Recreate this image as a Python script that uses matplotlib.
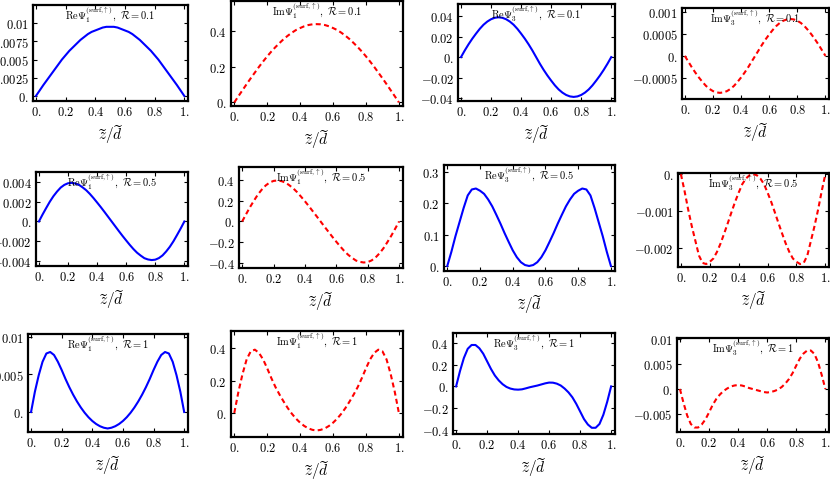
import matplotlib
matplotlib.use("Agg")
import matplotlib.pyplot as plt

plt.rcParams["mathtext.fontset"] = "cm"
plt.rcParams["font.family"] = "serif"
plt.rcParams["font.serif"] = ["DejaVu Serif"]

# ---------------------------
# Data
# ---------------------------
z = [0.0, 0.025, 0.05, 0.075, 0.1, 0.125, 0.15, 0.175, 0.2, 0.225, 0.25,
     0.275, 0.3, 0.325, 0.35, 0.375, 0.4, 0.425, 0.45, 0.475, 0.5,
     0.525, 0.55, 0.575, 0.6, 0.625, 0.65, 0.675, 0.7, 0.725, 0.75,
     0.775, 0.8, 0.825, 0.85, 0.875, 0.9, 0.925, 0.95, 0.975, 1.0]

# R = 0.1
re1_r01 = [0, 0.00075, 0.0015, 0.0022, 0.0029, 0.0036, 0.0043, 0.005, 0.0056, 0.0062, 0.0067,
           0.0072, 0.0077, 0.0081, 0.0085, 0.0088, 0.009, 0.0092, 0.0094, 0.0095, 0.0095,
           0.0095, 0.0094, 0.0092, 0.009, 0.0088, 0.0085, 0.0081, 0.0077, 0.0072, 0.0067,
           0.0062, 0.0056, 0.005, 0.0043, 0.0036, 0.0029, 0.0022, 0.0015, 0.00075, 0]
im1_r01 = [0, 0.035, 0.069, 0.103, 0.136, 0.168, 0.2, 0.23, 0.259, 0.286, 0.311,
           0.334, 0.356, 0.375, 0.392, 0.407, 0.418, 0.428, 0.435, 0.439, 0.44,
           0.439, 0.435, 0.428, 0.418, 0.407, 0.392, 0.375, 0.356, 0.334, 0.311,
           0.286, 0.259, 0.23, 0.2, 0.168, 0.136, 0.103, 0.069, 0.035, 0]
re3_r01 = [0, 0.0065, 0.0125, 0.018, 0.023, 0.0277, 0.0317, 0.0348, 0.0371, 0.0385, 0.039,
           0.0385, 0.0371, 0.0348, 0.0317, 0.0277, 0.023, 0.018, 0.0125, 0.0065, 0,
           -0.0065, -0.0125, -0.018, -0.023, -0.0277, -0.0317, -0.0348, -0.0371, -0.0385, -0.039,
           -0.0385, -0.0371, -0.0348, -0.0317, -0.0277, -0.023, -0.018, -0.0125, -0.0065, 0]
im3_r01 = [0, -0.00013, -0.00026, -0.00038, -0.00049, -0.00059, -0.00068, -0.00075, -0.0008, -0.00083, -0.00084,
           -0.00083, -0.0008, -0.00075, -0.00068, -0.00059, -0.00049, -0.00038, -0.00026, -0.00013, 0,
           0.00013, 0.00026, 0.00038, 0.00049, 0.00059, 0.00068, 0.00075, 0.0008, 0.00083, 0.00084,
           0.00083, 0.0008, 0.00075, 0.00068, 0.00059, 0.00049, 0.00038, 0.00026, 0.00013, 0]

# R = 0.5
re1_r05 = [0, 0.0007, 0.00136, 0.002, 0.00256, 0.00303, 0.00343, 0.0037, 0.00386, 0.0039, 0.00384,
           0.00371, 0.00345, 0.00316, 0.00279, 0.00237, 0.00192, 0.00146, 0.00098, 0.00049, 0,
           -0.00049, -0.00098, -0.00146, -0.00192, -0.00237, -0.00279, -0.00316, -0.00345, -0.00371, -0.00384,
           -0.0039, -0.00386, -0.0037, -0.00343, -0.00303, -0.00256, -0.002, -0.00136, -0.0007, 0]
im1_r05 = [0, 0.07, 0.138, 0.2, 0.259, 0.307, 0.347, 0.375, 0.391, 0.395, 0.389,
           0.376, 0.35, 0.32, 0.283, 0.24, 0.195, 0.148, 0.099, 0.05, 0,
           -0.05, -0.099, -0.148, -0.195, -0.24, -0.283, -0.32, -0.35, -0.376, -0.389,
           -0.395, -0.391, -0.375, -0.347, -0.307, -0.259, -0.2, -0.138, -0.07, 0]
re3_r05 = [0, 0.045, 0.095, 0.14, 0.185, 0.225, 0.244, 0.247, 0.24, 0.23, 0.212,
           0.19, 0.163, 0.135, 0.105, 0.077, 0.05, 0.028, 0.012, 0.003, 0,
           0.003, 0.012, 0.028, 0.05, 0.077, 0.105, 0.135, 0.163, 0.19, 0.212,
           0.23, 0.24, 0.247, 0.244, 0.225, 0.185, 0.14, 0.095, 0.045, 0]
im3_r05 = [0, -0.00045, -0.00095, -0.0014, -0.0018, -0.0022, -0.0024, -0.00243, -0.00237, -0.00228, -0.0021,
           -0.00187, -0.0016, -0.00132, -0.00103, -0.00075, -0.0005, -0.00027, -0.00012, -0.00003, 0,
           -0.00003, -0.00012, -0.00027, -0.0005, -0.00075, -0.00103, -0.00132, -0.0016, -0.00187, -0.0021,
           -0.00228, -0.00237, -0.00243, -0.0024, -0.0022, -0.0018, -0.0014, -0.00095, -0.00045, 0]

# R = 1
re1_r1 = [0, 0.0027, 0.0049, 0.0067, 0.0078, 0.0080, 0.0076, 0.0067, 0.0056, 0.0044, 0.0033,
          0.0023, 0.0014, 0.0006, -0.0001, -0.0007, -0.0012, -0.0016, -0.0019, -0.0021, -0.0022,
          -0.0021, -0.0019, -0.0016, -0.0012, -0.0007, -0.0001, 0.0006, 0.0014, 0.0023, 0.0033,
          0.0044, 0.0056, 0.0067, 0.0076, 0.0080, 0.0078, 0.0067, 0.0049, 0.0027, 0]
im1_r1 = [0, 0.13, 0.24, 0.33, 0.38, 0.39, 0.37, 0.33, 0.275, 0.215, 0.16,
          0.113, 0.07, 0.03, -0.005, -0.035, -0.06, -0.08, -0.095, -0.104, -0.108,
          -0.104, -0.095, -0.08, -0.06, -0.035, -0.005, 0.03, 0.07, 0.113, 0.16,
          0.215, 0.275, 0.33, 0.37, 0.39, 0.38, 0.33, 0.24, 0.13, 0]
re3_r1 = [0, 0.14, 0.26, 0.345, 0.38, 0.38, 0.35, 0.30, 0.23, 0.16, 0.10,
          0.055, 0.02, -0.005, -0.02, -0.028, -0.03, -0.027, -0.018, -0.008, 0,
          0.008, 0.018, 0.028, 0.035, 0.034, 0.025, 0.008, -0.02, -0.055, -0.10,
          -0.16, -0.23, -0.30, -0.35, -0.38, -0.38, -0.345, -0.26, -0.14, 0]
im3_r1 = [0, -0.0028, -0.0053, -0.007, -0.0077, -0.0077, -0.0071, -0.0061, -0.0047, -0.0032, -0.002,
          -0.0011, -0.0004, 0.0001, 0.0005, 0.0007, 0.0008, 0.0007, 0.0005, 0.0002, 0,
          -0.0002, -0.0004, -0.0006, -0.0007, -0.0006, -0.0004, -0.0001, 0.0004, 0.0011, 0.002,
          0.0032, 0.0047, 0.0061, 0.0071, 0.0077, 0.0077, 0.007, 0.0053, 0.0028, 0]

x_ticks = [0, 0.2, 0.4, 0.6, 0.8, 1.0]
x_tick_labels = ["0.", "0.2", "0.4", "0.6", "0.8", "1."]

# ---------------------------
# Panels: (part, index, R, values, yticks, yticklabels)
# ---------------------------
panels = [
    ("Re", 1, "0.1", re1_r01, [0, 0.0025, 0.005, 0.0075, 0.01], ["0.", "0.0025", "0.005", "0.0075", "0.01"]),
    ("Im", 1, "0.1", im1_r01, [0, 0.2, 0.4], ["0.", "0.2", "0.4"]),
    ("Re", 3, "0.1", re3_r01, [-0.04, -0.02, 0, 0.02, 0.04], ["-0.04", "-0.02", "0.", "0.02", "0.04"]),
    ("Im", 3, "0.1", im3_r01, [-0.0005, 0, 0.0005, 0.001], ["-0.0005", "0.", "0.0005", "0.001"]),
    ("Re", 1, "0.5", re1_r05, [-0.004, -0.002, 0, 0.002, 0.004], ["-0.004", "-0.002", "0.", "0.002", "0.004"]),
    ("Im", 1, "0.5", im1_r05, [-0.4, -0.2, 0, 0.2, 0.4], ["-0.4", "-0.2", "0.", "0.2", "0.4"]),
    ("Re", 3, "0.5", re3_r05, [0, 0.1, 0.2, 0.3], ["0.", "0.1", "0.2", "0.3"]),
    ("Im", 3, "0.5", im3_r05, [-0.002, -0.001, 0], ["-0.002", "-0.001", "0."]),
    ("Re", 1, "1", re1_r1, [0, 0.005, 0.01], ["0.", "0.005", "0.01"]),
    ("Im", 1, "1", im1_r1, [0, 0.2, 0.4], ["0.", "0.2", "0.4"]),
    ("Re", 3, "1", re3_r1, [-0.4, -0.2, 0, 0.2, 0.4], ["-0.4", "-0.2", "0.", "0.2", "0.4"]),
    ("Im", 3, "1", im3_r1, [-0.005, 0, 0.005, 0.01], ["-0.005", "0.", "0.005", "0.01"]),
]

# frame boxes in pixels (left, top, right, bottom) and y ranges
boxes = [
    (33, 6, 188, 102), (231, 2, 403, 107), (458, 5, 615, 102), (682, 9, 829, 100),
    (36, 173, 188, 267), (239, 168, 403, 269), (444, 166, 615, 272), (678, 174, 829, 268),
    (28, 335, 188, 433), (231, 332, 403, 438), (453, 334, 615, 435), (677, 339, 829, 433),
]
ylims = [
    (-0.0007, 0.0125), (-0.02, 0.57), (-0.043, 0.052), (-0.00098, 0.00109),
    (-0.0045, 0.005), (-0.448, 0.525), (-0.016, 0.322), (-0.00251, 0.00003),
    (-0.00267, 0.0104), (-0.148, 0.505), (-0.437, 0.49), (-0.0086, 0.0102),
]

W, H = 830, 481
fig = plt.figure(figsize=(W / 100, H / 100), dpi=100)

for (part, idx, r, vals, yt, ytl), (l, t, rr, b), yl in zip(panels, boxes, ylims):
    ax = fig.add_axes([l / W, 1 - b / H, (rr - l) / W, (b - t) / H])
    if part == "Re":
        ax.plot(z, vals, color="#0000ff", lw=1.5)
    else:
        ax.plot(z, vals, color="#ff0000", lw=1.5, dashes=(2.4, 1.6))
    ax.set_xlim(-0.02, 1.025)
    ax.set_ylim(*yl)
    ax.set_xticks(x_ticks)
    ax.set_xticklabels(["$%s$" % s for s in x_tick_labels])
    ax.set_yticks(yt)
    ax.set_yticklabels(["$%s$" % s for s in ytl])
    ax.tick_params(direction="in", length=3, width=0.8, top=True, right=True,
                   labelsize=9, pad=3)
    for sp in ax.spines.values():
        sp.set_linewidth(1.6)
    title = r"$\mathrm{%s}\Psi_{%d}^{(\mathrm{surf}{,}\uparrow)},\ \mathcal{R}=%s$" % (part, idx, r)
    ax.annotate(title, xy=(0.5, 1), xycoords="axes fraction", xytext=(0, -13),
                textcoords="offset pixels", ha="center", va="baseline", fontsize=7.5)
    ax.annotate(r"$\widetilde{z}/\widetilde{d}$", xy=(0.5, 0), xycoords="axes fraction",
                xytext=(0, -38), textcoords="offset pixels", ha="center", va="baseline",
                fontsize=11)

fig.savefig("out.png", dpi=100)
